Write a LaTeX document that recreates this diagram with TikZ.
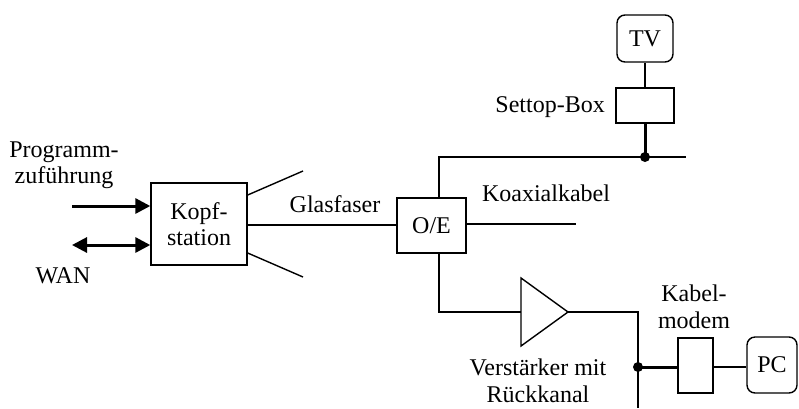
\documentclass[tikz,border=0pt]{standalone}
\usepackage{fontspec}
\setmainfont{Liberation Serif}
\usetikzlibrary{arrows.meta}
\begin{document}
\begin{tikzpicture}[x=1pt,y=-1pt,
  every node/.style={font=\fontsize{24}{26.5}\selectfont},
  thin line/.style={line width=1.4pt},
  thick line/.style={line width=3pt},
  box/.style={draw,line width=1.4pt,minimum width=#1,inner sep=0pt},
  label text/.style={align=center,inner sep=0pt},
  dotmark/.style={circle,fill,inner sep=0pt,minimum size=10pt},
  tip/.style={-{Triangle[length=15pt,width=15pt]}},
  dtip/.style={{Triangle[length=15pt,width=15pt]}-{Triangle[length=15pt,width=15pt]}}]
\useasboundingbox (0,0) rectangle (799,408);
% boxes
\node[box=96pt,minimum height=82pt,label text] (kopf) at (199,224) {Kopf-\\station};
\node[box=69pt,minimum height=55pt] (oe) at (431.5,225.5) {O/E};
\node[box=58pt,minimum height=35pt] (stb) at (645,105.5) {};
\node[box=56pt,minimum height=47pt,rounded corners=8pt] (tv) at (645,38.5) {TV};
\node[box=35pt,minimum height=55pt] (modem) at (695.5,365.5) {};
\node[box=50pt,minimum height=56pt,rounded corners=8pt] (pc) at (772,365) {PC};
% labels
\node[label text] (prog) at (64,165) {Programm-\\zuführung};
\node[label text] (wan) at (63,276) {WAN};
\node[label text] (glas) at (335,204) {Glasfaser};
\node[label text] (koax) at (546,193) {Koaxialkabel};
\node[label text,anchor=east] (settop) at (605,107) {Settop-Box};
\node[label text] (kabel) at (694,307) {Kabel-\\modem};
\node[label text] (verst) at (538,381) {Verstärker mit\\Rückkanal};
% inputs
\coordinate (in1) at (72,206);
\coordinate (in2) at (72,245);
\draw[thick line,tip] (in1) -- (in1 -| kopf.west);
\draw[thick line,dtip] (in2) -- (in2 -| kopf.west);
% fan
\coordinate (fa) at (303,171);
\coordinate (fb) at (303,277);
\draw[thin line] (kopf.east |- 0,195) -- (fa);
\draw[thin line] (kopf.east |- 0,253) -- (fb);
\draw[thin line] (kopf.east |- 0,225) -- (oe.west |- 0,225);
% coax
\coordinate (ce) at (576,224);
\draw[thin line] (oe.east |- ce) -- (ce);
\coordinate (bus1) at (439,157);
\coordinate (bus2) at (686,157);
\coordinate (oeN) at (439,198);
\coordinate (oeS) at (439,253);
\draw[thin line] (oeN) -- (bus1) -- (bus2);
\node[dotmark] (d1) at (645,157) {};
\draw[thick line] (d1.center) -- (stb.south);
\draw[thin line] (stb.north) -- (tv.south);
% amplifier
\coordinate (aL1) at (521,278);
\coordinate (aL2) at (521,346);
\coordinate (aL) at (521,312);
\coordinate (aT) at (568,312);
\draw[thin line,line join=miter] (aL1) -- (aT) -- (aL2) -- cycle;
\draw[thin line] (oeS) -- (439,312) -- (aL);
\coordinate (c1) at (638,312);
\coordinate (c2) at (638,408);
\draw[thin line] (aT) -- (c1) -- (c2);
\node[dotmark] (d2) at (638,367) {};
\draw[thick line] (d2.center) -- (modem.west |- d2);
\draw[thin line] (modem.east |- d2) -- (pc.west |- d2);
\end{tikzpicture}
\end{document}
